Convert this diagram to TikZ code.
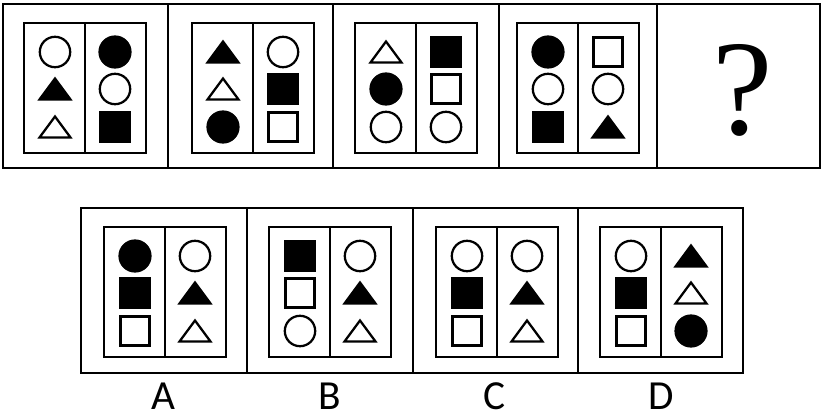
\documentclass[tikz,border=0pt]{standalone}
\usepackage{fontspec}
\newfontfamily\labelfont{Carlito}
\newfontfamily\markfont{Liberation Serif}
\usepackage{tikz}

\tikzstyle{frame}=[draw=black, line width=1.6pt]
\tikzstyle{figline}=[draw=black, line width=1.7pt]
\tikzstyle{letter}=[anchor=base, inner sep=0pt, font=\labelfont\fontsize{31}{31}\selectfont]
\tikzset{
  ocirc/.pic={\draw[figline] (0,0) circle[radius=11.4pt];},
  fcirc/.pic={\draw[figline, fill=black] (0,0) circle[radius=11.6pt];},
  osq/.pic={\draw[figline] (-14.5,-14.5) rectangle (14.5,14.5);},
  fsq/.pic={\draw[figline, fill=black] (-14.5,-14.5) rectangle (14.5,14.5);},
  otri/.pic={\draw[figline] (-15.5,10.5) -- (0,-10.5) -- (15.5,10.5) -- cycle;},
  ftri/.pic={\draw[figline, fill=black] (-15.5,10.5) -- (0,-10.5) -- (15.5,10.5) -- cycle;}
}

% one two-column panel: name, left x, top y, then left column and right column figures
\newcommand{\panel}[9]{
  \draw[frame] (#2,#3) rectangle ++(122,130);
  \draw[frame] (#2+61,#3) -- ++(0,130);
  \pic (#1-l1) at (#2+31,#3+29) {#4};
  \pic (#1-l2) at (#2+31,#3+66) {#5};
  \pic (#1-l3) at (#2+31,#3+104) {#6};
  \pic (#1-r1) at (#2+91,#3+29) {#7};
  \pic (#1-r2) at (#2+91,#3+66) {#8};
  \pic (#1-r3) at (#2+91,#3+104) {#9};
}

\begin{document}
\begin{tikzpicture}[x=0.75pt, y=-0.75pt]
  \useasboundingbox (0,0) rectangle (822,420);
  \begin{scope}
    % question row
    \draw[frame] (3,4) rectangle (820,168);
    \draw[frame] (168,4) -- (168,168);
    \draw[frame] (333,4) -- (333,168);
    \draw[frame] (499,4) -- (499,168);
    \draw[frame] (657,4) -- (657,168);
    \panel{q1}{24}{23}{ocirc}{ftri}{otri}{fcirc}{ocirc}{fsq}
    \panel{q2}{192}{23}{ftri}{otri}{fcirc}{ocirc}{fsq}{osq}
    \panel{q3}{355}{23}{otri}{fcirc}{ocirc}{fsq}{osq}{ocirc}
    \panel{q4}{517}{23}{fcirc}{ocirc}{fsq}{osq}{ocirc}{ftri}
    \node (q) at (743,90) {\markfont\fontsize{102}{102}\selectfont ?};
  \end{scope}
  \begin{scope}
    % answer row
    \draw[frame] (81,208) rectangle (743,373);
    \draw[frame] (247,208) -- (247,373);
    \draw[frame] (413,208) -- (413,373);
    \draw[frame] (578,208) -- (578,373);
    \panel{a}{104}{227}{fcirc}{fsq}{osq}{ocirc}{ftri}{otri}
    \panel{b}{269}{227}{fsq}{osq}{ocirc}{ocirc}{ftri}{otri}
    \panel{c}{436}{227}{ocirc}{fsq}{osq}{ocirc}{ftri}{otri}
    \panel{d}{600}{227}{ocirc}{fsq}{osq}{ftri}{otri}{fcirc}
    \node (la)[letter] at (163,410) {A};
    \node (lb)[letter] at (330,410) {B};
    \node (lc)[letter] at (495,410) {C};
    \node (ld)[letter] at (661,410) {D};
  \end{scope}
\end{tikzpicture}
\end{document}
